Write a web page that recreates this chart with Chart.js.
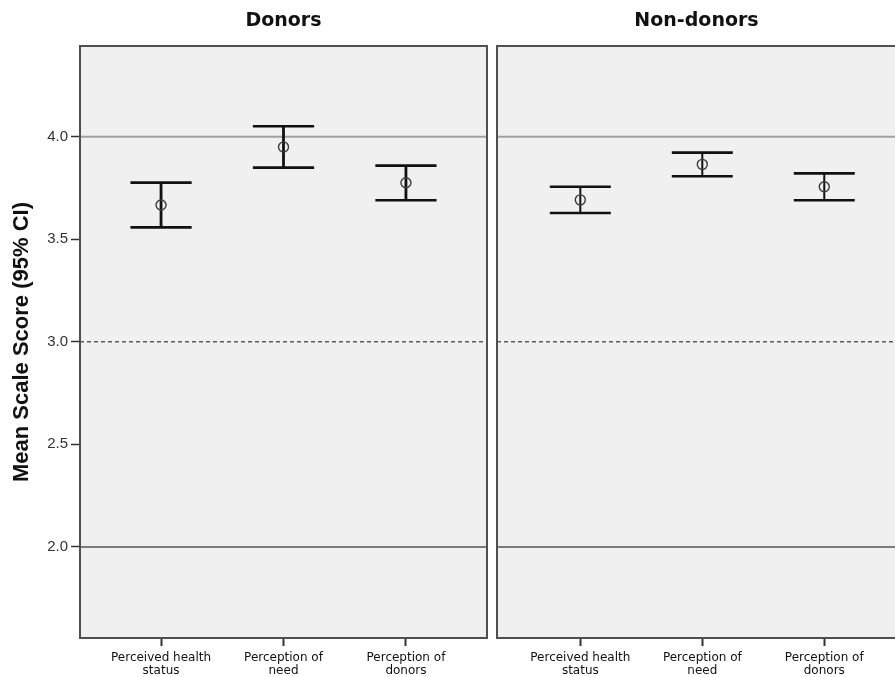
<!DOCTYPE html>
<html>
<head>
<meta charset="utf-8">
<script src="https://cdn.jsdelivr.net/npm/chart.js@4.4.1/dist/chart.umd.min.js"></script>
<style>
  html, body { margin: 0; padding: 0; background: #ffffff; }
  body { width: 895px; height: 677px; overflow: hidden; position: relative; }
  canvas { position: absolute; top: 0; }
  #donors { left: 0; }
  #nondonors { left: 489px; }
</style>
</head>
<body>
<canvas id="donors" width="490" height="677"></canvas>
<canvas id="nondonors" width="407" height="677"></canvas>
<script>
// Scale items shown on the x axis of each panel
const categories = ['Perceived health status', 'Perception of need', 'Perception of donors'];
const categoryLabels = [['Perceived health', 'status'], ['Perception of', 'need'], ['Perception of', 'donors']];

// Donors: mean and 95% confidence interval
const donorsMean  = [3.667, 3.950, 3.775];
const donorsLower = [3.558, 3.849, 3.690];
const donorsUpper = [3.776, 4.051, 3.859];

// Non-donors: mean and 95% confidence interval
const nonDonorsMean  = [3.692, 3.865, 3.756];
const nonDonorsLower = [3.628, 3.807, 3.690];
const nonDonorsUpper = [3.756, 3.922, 3.821];

// Value axis
const yTicks = [2.0, 2.5, 3.0, 3.5, 4.0];
const yRange = [1.556, 4.442];

// Horizontal reference lines
const referenceLines = [4.0, 3.0, 2.0];

const refStyle = {
  '4': { color: '#a0a0a0', width: 2, dash: [] },
  '3': { color: '#5a5a5a', width: 1.6, dash: [4, 3] },
  '2': { color: '#555555', width: 1.5, dash: [] }
};

const CAP_HALF = 0.25;     // half width of the CI whiskers, in category units
const FRAME = '#4f4f4f';

function stemPoints(lower, upper) {
  const pts = [];
  lower.forEach((lo, i) => {
    pts.push({ x: i, y: lo }, { x: i, y: upper[i] }, { x: i, y: null });
  });
  return pts;
}

function capPoints(lower, upper) {
  const pts = [];
  lower.forEach((lo, i) => {
    pts.push({ x: i - CAP_HALF, y: upper[i] }, { x: i + CAP_HALF, y: upper[i] }, { x: i, y: null });
    pts.push({ x: i - CAP_HALF, y: lo }, { x: i + CAP_HALF, y: lo }, { x: i, y: null });
  });
  return pts;
}

const panelBackground = {
  id: 'panelBackground',
  beforeDraw(chart) {
    const { ctx, chartArea: a } = chart;
    ctx.save();
    ctx.fillStyle = '#f0f0f0';
    ctx.fillRect(a.left, a.top, a.right - a.left, a.bottom - a.top);
    ctx.restore();
  }
};

const panelFrame = {
  id: 'panelFrame',
  afterDatasetsDraw(chart) {
    const { ctx, chartArea: a } = chart;
    ctx.save();
    ctx.strokeStyle = FRAME;
    ctx.lineWidth = 2;
    ctx.strokeRect(a.left, a.top, a.right - a.left, a.bottom - a.top);
    ctx.restore();
  }
};

function buildDatasets(mean, lower, upper, xMin, xMax, stemWidth) {
  const sets = [];
  sets.push({
    label: 'Mean',
    data: mean.map((m, i) => ({ x: i, y: m })),
    pointStyle: 'circle',
    pointRadius: 5,
    pointBorderWidth: 1.4,
    pointBorderColor: '#3a3a3a',
    pointBackgroundColor: 'rgba(0,0,0,0)',
    showLine: false,
    order: 0
  });
  sets.push({
    label: 'CI caps',
    data: capPoints(lower, upper),
    showLine: true,
    borderColor: '#111111',
    borderWidth: 2.6,
    pointRadius: 0,
    spanGaps: false,
    order: 1
  });
  sets.push({
    label: 'CI',
    data: stemPoints(lower, upper),
    showLine: true,
    borderColor: '#111111',
    borderWidth: stemWidth,
    pointRadius: 0,
    spanGaps: false,
    order: 2
  });
  referenceLines.forEach(v => {
    const s = refStyle[String(v)];
    sets.push({
      label: 'Reference ' + v,
      data: [{ x: xMin, y: v }, { x: xMax, y: v }],
      showLine: true,
      borderColor: s.color,
      borderWidth: s.width,
      borderDash: s.dash,
      pointRadius: 0,
      order: 3
    });
  });
  return sets;
}

function panelOptions(title, xMin, xMax, showY, titleFullSize, padLeft, padRight) {
  return {
    responsive: false,
    animation: false,
    events: [],
    devicePixelRatio: 1,
    layout: { autoPadding: false, padding: { left: padLeft, right: padRight, top: 0, bottom: 0 } },
    plugins: {
      legend: { display: false },
      tooltip: { enabled: false },
      title: {
        display: true,
        text: title,
        fullSize: titleFullSize,
        color: '#111111',
        font: { family: 'DejaVu Sans', size: 19, weight: 'bold', lineHeight: 1.2 },
        padding: { top: 10, bottom: 13.2 }
      }
    },
    scales: {
      x: {
        type: 'linear',
        min: xMin,
        max: xMax,
        afterBuildTicks: s => { s.ticks = categories.map((c, i) => ({ value: i })); },
        afterFit: s => { s.height = 39; s.paddingLeft = 0; s.paddingRight = 0; },
        grid: { display: true, drawOnChartArea: false, drawTicks: true, tickLength: 8, tickColor: '#333333', tickWidth: 2 },
        border: { display: false },
        ticks: {
          autoSkip: false,
          maxRotation: 0,
          padding: 5,
          color: '#111111',
          font: { family: 'DejaVu Sans', size: 12, lineHeight: 1.1 },
          callback: v => categoryLabels[Math.round(v)]
        }
      },
      y: {
        type: 'linear',
        display: showY,
        min: yRange[0],
        max: yRange[1],
        afterBuildTicks: s => { s.ticks = yTicks.map(v => ({ value: v })); },
        afterFit: s => { s.width = showY ? 80 : 0; },
        grid: { display: true, drawOnChartArea: false, drawTicks: true, tickLength: 9, tickColor: '#333333', tickWidth: 1.5 },
        border: { display: false },
        ticks: {
          padding: 3,
          color: '#333333',
          font: { family: 'Liberation Sans', size: 15 },
          callback: v => Number(v).toFixed(1)
        },
        title: {
          display: showY,
          text: 'Mean Scale Score (95% CI)',
          color: '#111111',
          font: { family: 'Liberation Sans', size: 22, weight: 'bold', lineHeight: 1.2 },
          padding: { top: 9, bottom: 0 }
        }
      }
    }
  };
}

const donorsX = [-0.662, 2.662];
const nonDonorsX = [-0.683, 2.588];

new Chart(document.getElementById('donors'), {
  type: 'scatter',
  data: { datasets: buildDatasets(donorsMean, donorsLower, donorsUpper, donorsX[0], donorsX[1], 2.8) },
  options: panelOptions('Donors', donorsX[0], donorsX[1], true, false, 0, 3),
  plugins: [panelBackground, panelFrame]
});

new Chart(document.getElementById('nondonors'), {
  type: 'scatter',
  data: { datasets: buildDatasets(nonDonorsMean, nonDonorsLower, nonDonorsUpper, nonDonorsX[0], nonDonorsX[1], 2) },
  options: panelOptions('Non-donors', nonDonorsX[0], nonDonorsX[1], false, true, 8, 0),
  plugins: [panelBackground, panelFrame]
});
</script>
</body>
</html>
